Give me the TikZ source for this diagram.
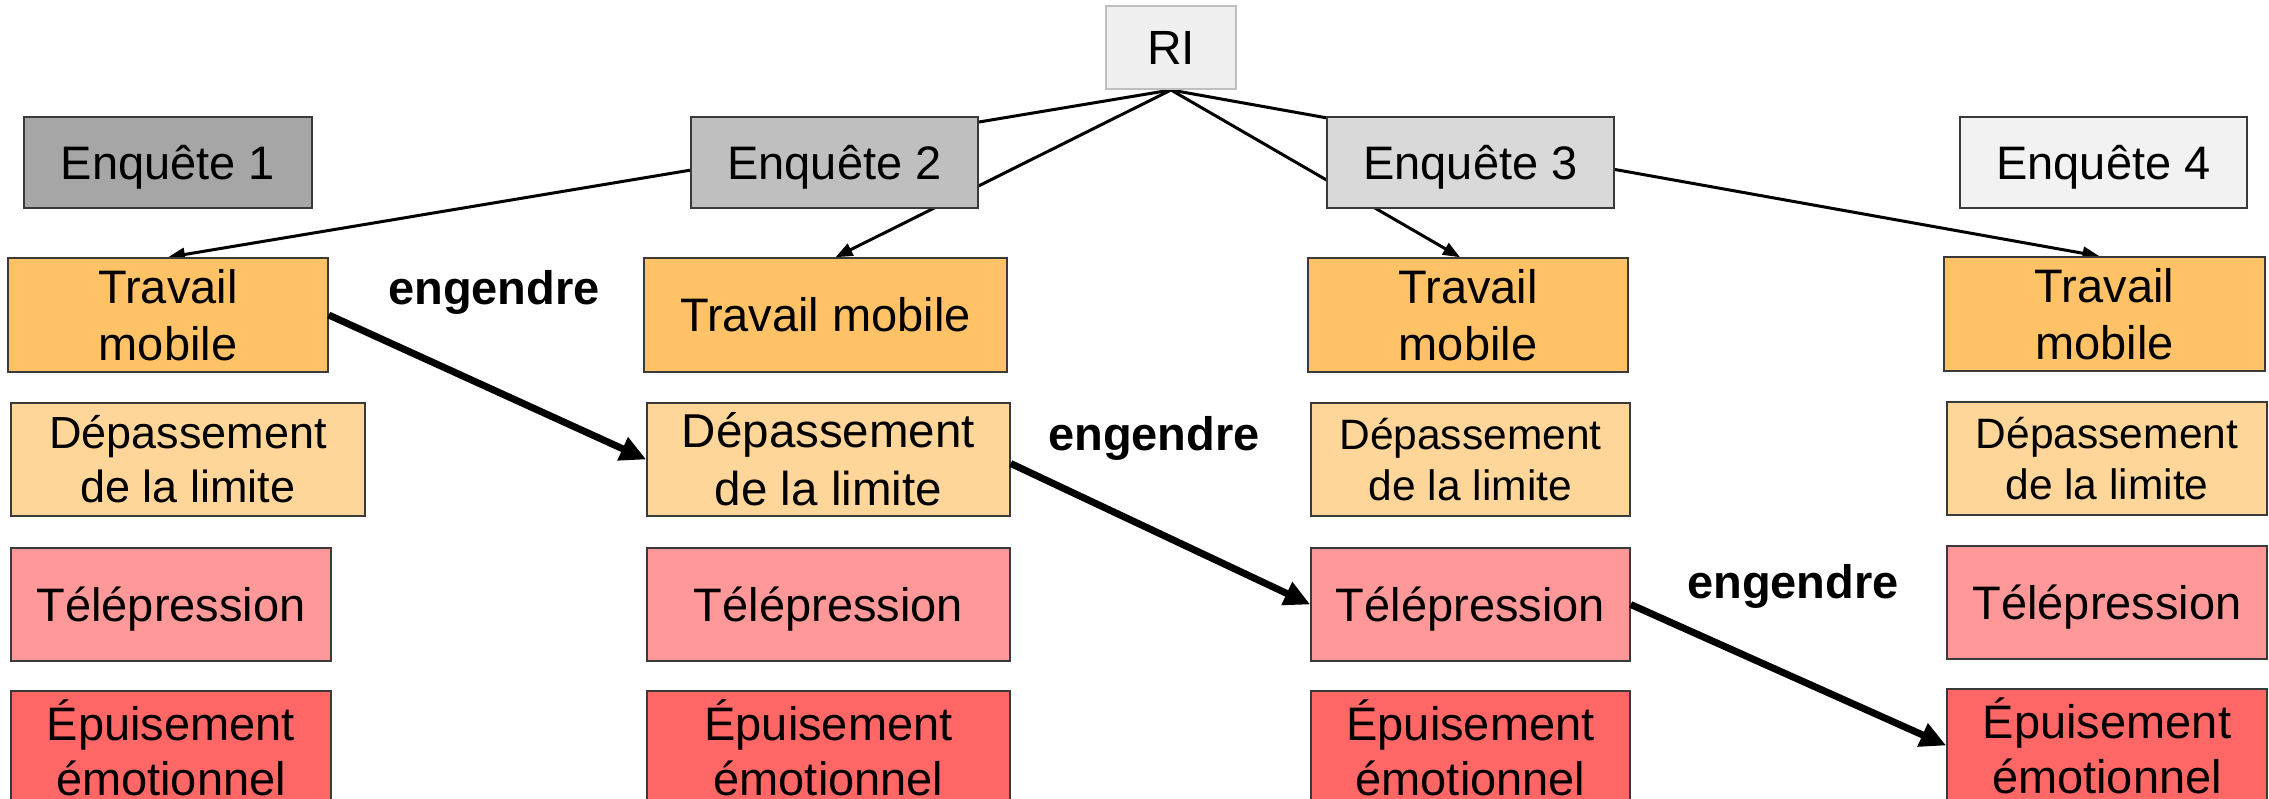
\documentclass[tikz,border=0pt]{standalone}
\usepackage{fontspec}
\setmainfont{Liberation Sans}
\usetikzlibrary{arrows.meta,backgrounds,calc}
\definecolor{cRI}{HTML}{F0F0F0}
\definecolor{cRIb}{HTML}{BFBFBF}
\definecolor{cE1}{HTML}{A6A6A6}
\definecolor{cE2}{HTML}{BFBFBF}
\definecolor{cE3}{HTML}{D9D9D9}
\definecolor{cE4}{HTML}{F2F2F2}
\definecolor{cTM}{HTML}{FFC266}
\definecolor{cDL}{HTML}{FFD699}
\definecolor{cTP}{HTML}{FF9999}
\definecolor{cEE}{HTML}{FF6666}
\definecolor{bord}{HTML}{3A3A3A}
\begin{document}
\begin{tikzpicture}[x=1pt,y=-1pt,
  box/.style={draw=bord, line width=1.5pt, rectangle, inner sep=0pt, align=center,
    font=\fontsize{47}{57}\selectfont},
  one/.style={text height=34pt, text depth=0pt},
  enq/.style={box, one, minimum width=287pt, minimum height=91pt},
  rowh/.style={minimum height=113pt},
  conn/.style={line width=3pt, -{Triangle[length=17pt,width=13pt]}},
  big/.style={line width=7pt, -{Triangle[length=26pt,width=24pt]}},
  lab/.style={font=\fontsize{47}{57}\selectfont\bfseries, inner sep=0pt, anchor=base}]
\useasboundingbox (0,0) rectangle (2269,799);
\clip (0,0) rectangle (2269,799);

% top
\node[box, fill=cRI, draw=cRIb, line width=2pt, minimum width=130pt, minimum height=83pt, one,
  font=\fontsize{48}{57}\selectfont] (RI) at (1171,47.5) {RI};
\node[enq, fill=cE1, minimum width=288pt] (E1) at (168,162.5) {Enquête 1};
\node[enq, fill=cE2] (E2) at (834.5,162.5) {Enquête 2};
\node[enq, fill=cE3] (E3) at (1470.5,162.5) {Enquête 3};
\node[enq, fill=cE4] (E4) at (2103.5,162.5) {Enquête 4};

% Travail mobile
\node[box, fill=cTM, minimum width=320pt, minimum height=114pt] (T1) at (168,315) {Travail\\mobile};
\node[box, one, fill=cTM, minimum width=363pt, minimum height=114pt] (T2) at (825.5,315) {Travail mobile};
\node[box, fill=cTM, minimum width=320pt, minimum height=114pt] (T3) at (1468,315) {Travail\\mobile};
\node[box, fill=cTM, minimum width=321pt, minimum height=114pt] (T4) at (2104.5,314) {Travail\\mobile};

% Dépassement
\node[box, rowh, fill=cDL, minimum width=354pt, font=\fontsize{45}{54}\selectfont] (D1) at (188,459.5) {Dépassement\\de la limite};
\node[box, rowh, fill=cDL, minimum width=363pt, font=\fontsize{47.5}{58}\selectfont] (D2) at (828.5,459.5) {Dépassement\\de la limite};
\node[box, rowh, fill=cDL, minimum width=319pt, font=\fontsize{42.5}{51}\selectfont] (D3) at (1470.5,459.5) {Dépassement\\de la limite};
\node[box, rowh, fill=cDL, minimum width=320pt, font=\fontsize{42.5}{51}\selectfont] (D4) at (2107,458.5) {Dépassement\\de la limite};

% Télépression
\node[box, rowh, one, fill=cTP, minimum width=320pt] (P1) at (171,604.5) {Télépression};
\node[box, rowh, one, fill=cTP, minimum width=363pt] (P2) at (828.5,604.5) {Télépression};
\node[box, rowh, one, fill=cTP, minimum width=319pt] (P3) at (1470.5,604.5) {Télépression};
\node[box, rowh, one, fill=cTP, minimum width=320pt] (P4) at (2107,602.5) {Télépression};

% Épuisement
\node[box, rowh, fill=cEE, minimum width=320pt, font=\fontsize{47}{55}\selectfont] (X1) at (171,747.5) {Épuisement\\émotionnel};
\node[box, rowh, fill=cEE, minimum width=363pt, font=\fontsize{47}{55}\selectfont] (X2) at (828.5,747.5) {Épuisement\\émotionnel};
\node[box, rowh, fill=cEE, minimum width=319pt, font=\fontsize{47}{55}\selectfont] (X3) at (1470.5,747.5) {Épuisement\\émotionnel};
\node[box, rowh, fill=cEE, minimum width=320pt, font=\fontsize{47}{55}\selectfont] (X4) at (2107,745.5) {Épuisement\\émotionnel};

% labels
\node[lab] (L1) at (494,305) {engendre};
\node[lab] (L2) at (1154,450) {engendre};
\node[lab] (L3) at (1793,598) {engendre};

% connectors from RI (behind the boxes)
\begin{pgfonlayer}{background}
\draw[conn] (RI.south) -- (T1.north);
\draw[conn] (RI.south) -- ($(T2.north)+(10,0)$);
\draw[conn] (RI.south) -- ($(T3.north)+(-8,0)$);
\draw[conn] (RI.south) -- ($(T4.north)+(-5,0)$);
\end{pgfonlayer}

% engendre arrows
\draw[big] (T1.east) -- (D2.west);
\draw[big] ($(D2.east)+(0,4)$) -- (P3.west);
\draw[big] (P3.east) -- (X4.west);
\end{tikzpicture}
\end{document}
